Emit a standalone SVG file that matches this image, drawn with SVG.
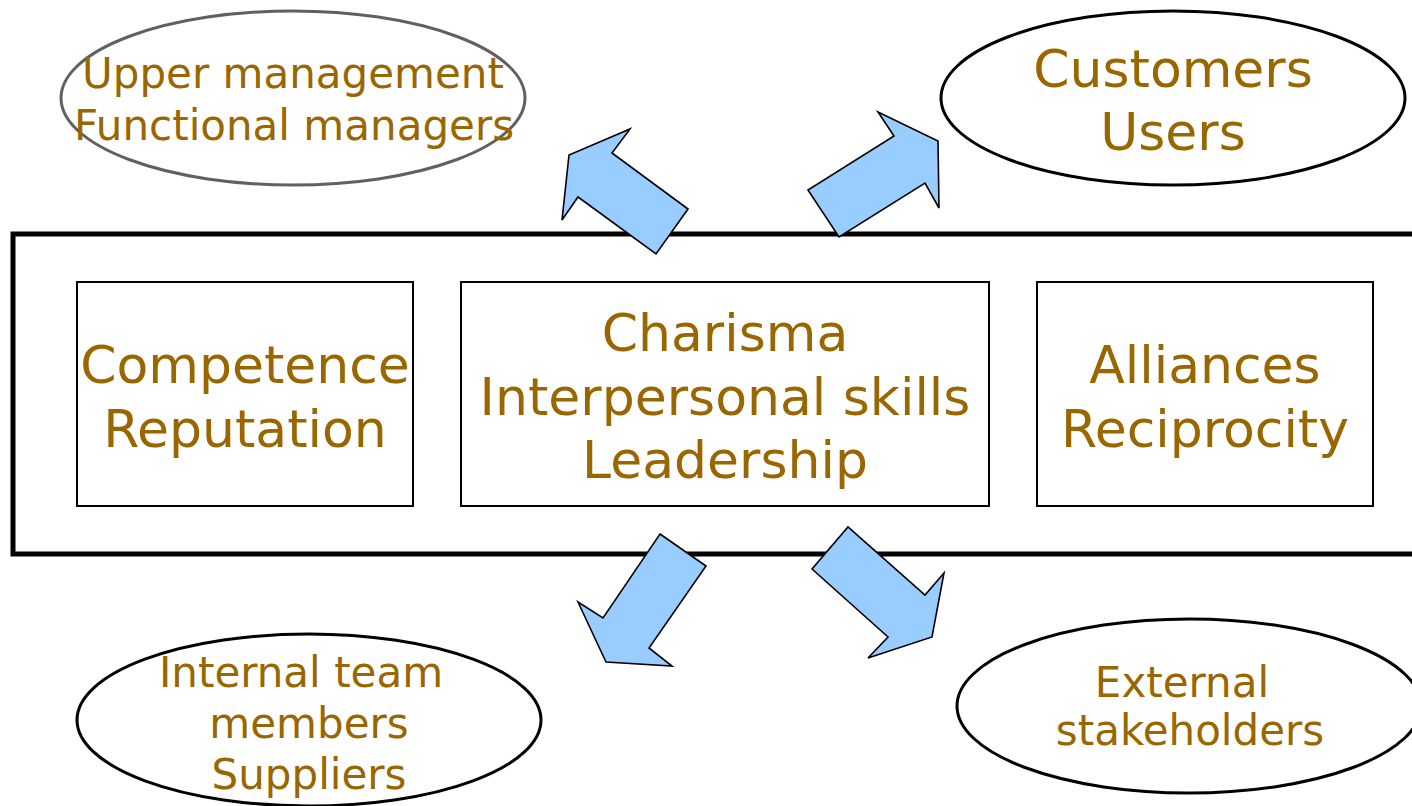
<svg xmlns="http://www.w3.org/2000/svg" width="1412" height="806" viewBox="0 0 1412 806">
  <style>
    .lbl { font-family: "DejaVu Sans", Verdana, sans-serif; fill: #996600; text-anchor: middle; }
    .big { font-size: 52px; }
    .small { font-size: 42px; }
    .oval { fill: #ffffff; stroke: #000000; stroke-width: 3; }
    .oval-gray { fill: #ffffff; stroke: #606060; stroke-width: 3; }
    .box { fill: #ffffff; stroke: #000000; stroke-width: 2; }
    .arrow { fill: #99ccff; stroke: #000000; stroke-width: 1.6; stroke-linejoin: miter; }
  </style>
  <rect width="1412" height="806" fill="#ffffff"/>

  <!-- influence frame, open on the right -->
  <rect id="frame" x="13" y="234" width="1420" height="320" fill="none" stroke="#000000" stroke-width="5"/>

  <g id="node-competence">
    <rect class="box" x="77" y="282" width="336" height="224"/>
    <text class="lbl big" x="245" y="383">Competence</text>
    <text class="lbl big" x="245" y="447">Reputation</text>
  </g>

  <g id="node-charisma">
    <rect class="box" x="461" y="282" width="528" height="224"/>
    <text class="lbl big" x="725" y="351">Charisma</text>
    <text class="lbl big" x="725" y="415">Interpersonal skills</text>
    <text class="lbl big" x="725" y="478">Leadership</text>
  </g>

  <g id="node-alliances">
    <rect class="box" x="1037" y="282" width="336" height="224"/>
    <text class="lbl big" x="1205" y="383">Alliances</text>
    <text class="lbl big" x="1205" y="447">Reciprocity</text>
  </g>

  <g id="node-upper">
    <ellipse class="oval-gray" cx="293" cy="98" rx="232" ry="87"/>
    <text class="lbl small" x="293" y="88">Upper management</text>
    <text class="lbl small" x="294" y="140">Functional managers</text>
  </g>

  <g id="node-customers">
    <ellipse class="oval" cx="1173" cy="98" rx="232" ry="87"/>
    <text class="lbl big" x="1173" y="87">Customers</text>
    <text class="lbl big" x="1173" y="150">Users</text>
  </g>

  <g id="node-internal">
    <ellipse class="oval" cx="309" cy="720" rx="232" ry="86"/>
    <text class="lbl small" x="301" y="687">Internal team</text>
    <text class="lbl small" x="309" y="738">members</text>
    <text class="lbl small" x="309" y="789">Suppliers</text>
  </g>

  <g id="node-external">
    <ellipse class="oval" cx="1189" cy="706" rx="232" ry="87"/>
    <text class="lbl small" x="1182" y="697">External</text>
    <text class="lbl small" x="1190" y="745">stakeholders</text>
  </g>

  <!-- block arrows -->
  <g id="connectors">
    <polygon class="arrow" points="688,209 656,254 578,197 562,220 569,155 630,129 612,153"/>
    <polygon class="arrow" points="808,190 839,237 925,183 939,208 938,141 878,112 894,136"/>
    <polygon class="arrow" points="660,534 706,566 649,648 672,666 606,662 578,602 603,618"/>
    <polygon class="arrow" points="812,569 848,527 925,595 944,573 932,637 868,658 888,637"/>
  </g>
</svg>
